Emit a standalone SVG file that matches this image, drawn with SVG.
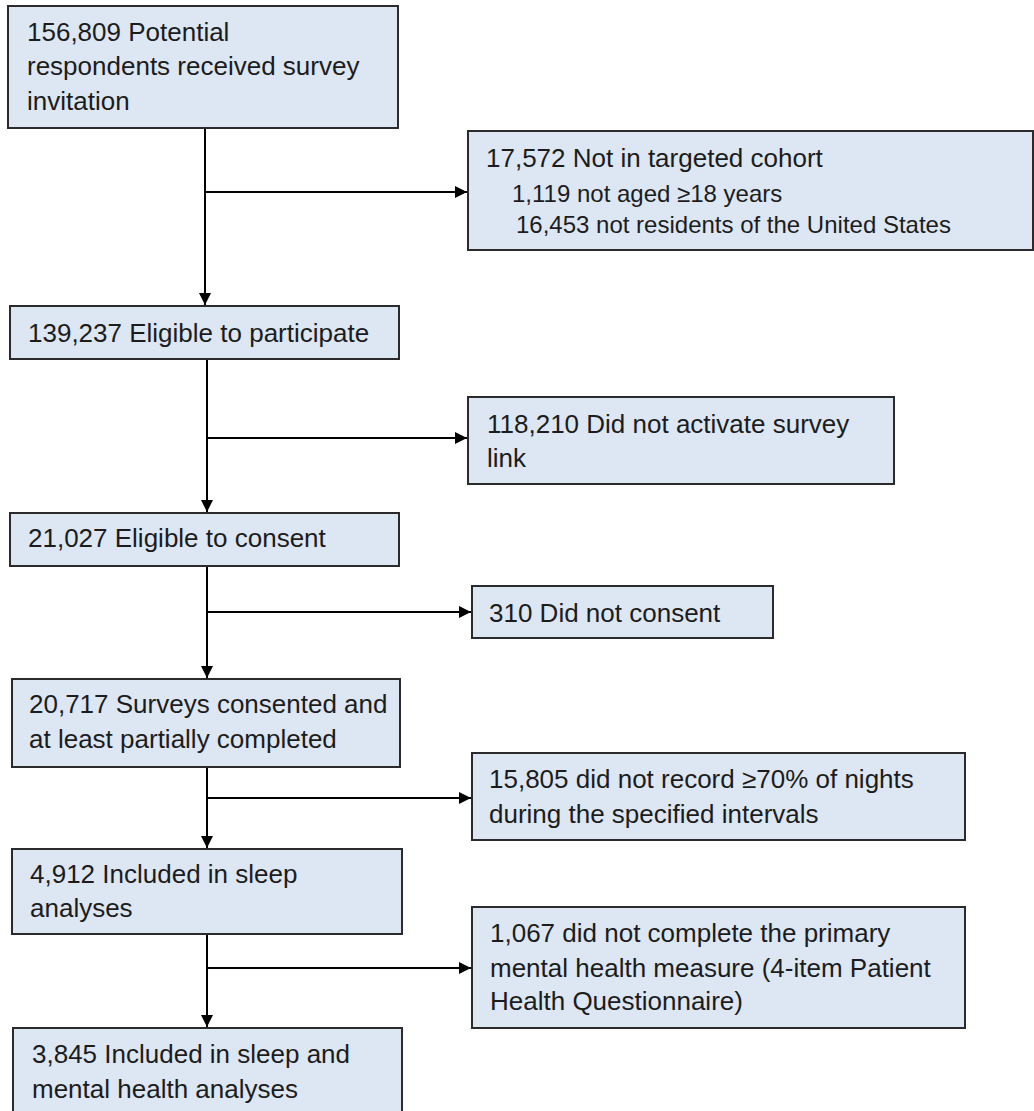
<svg xmlns="http://www.w3.org/2000/svg" width="1034" height="1111" viewBox="0 0 1034 1111">
<style>
.box{fill:#dce7f3;stroke:#2b2b2b;stroke-width:2}
.t{font-family:"Liberation Sans",Arial,sans-serif;font-size:26px;fill:#1c1c1c}
.s{font-size:24px}
.c{stroke:#000;stroke-width:2;fill:none}
</style>
<defs>
<marker id="ah" markerUnits="userSpaceOnUse" markerWidth="13" markerHeight="13" refX="12" refY="6" orient="auto">
<path d="M0,0 L12,6 L0,12 z" fill="#000"/>
</marker>
</defs>
<rect width="1034" height="1111" fill="#fff"/>
<g id="connectors">
<path class="c" d="M205,128 V305" marker-end="url(#ah)"/>
<path class="c" d="M205,192 H467" marker-end="url(#ah)"/>
<path class="c" d="M207,359 V512" marker-end="url(#ah)"/>
<path class="c" d="M207,438 H467" marker-end="url(#ah)"/>
<path class="c" d="M207,566 V678" marker-end="url(#ah)"/>
<path class="c" d="M207,612 H471" marker-end="url(#ah)"/>
<path class="c" d="M207,767 V848" marker-end="url(#ah)"/>
<path class="c" d="M207,798 H471" marker-end="url(#ah)"/>
<path class="c" d="M207,934 V1027" marker-end="url(#ah)"/>
<path class="c" d="M207,968 H471" marker-end="url(#ah)"/>
</g>
<g id="n1">
<rect class="box" x="8" y="6" width="390" height="122"/>
<text class="t" x="27" y="41">156,809 Potential</text>
<text class="t" x="27" y="75">respondents received survey</text>
<text class="t" x="27" y="110">invitation</text>
</g>
<g id="n2">
<rect class="box" x="10" y="306" width="389" height="53"/>
<text class="t" x="28" y="342">139,237 Eligible to participate</text>
</g>
<g id="n3">
<rect class="box" x="10" y="513" width="389" height="53"/>
<text class="t" x="28" y="547">21,027 Eligible to consent</text>
</g>
<g id="n4">
<rect class="box" x="12" y="679" width="388" height="88"/>
<text class="t" x="29" y="713">20,717 Surveys consented and</text>
<text class="t" x="29" y="748">at least partially completed</text>
</g>
<g id="n5">
<rect class="box" x="12" y="849" width="390" height="85"/>
<text class="t" x="30" y="883">4,912 Included in sleep</text>
<text class="t" x="30" y="917">analyses</text>
</g>
<g id="n6">
<rect class="box" x="13" y="1028" width="389" height="100"/>
<text class="t" x="32" y="1063">3,845 Included in sleep and</text>
<text class="t" x="32" y="1098">mental health analyses</text>
</g>
<g id="r1">
<rect class="box" x="468" y="131" width="565" height="119"/>
<text class="t" x="486" y="167">17,572 Not in targeted cohort</text>
<text class="t s" x="512" y="202">1,119 not aged ≥18 years</text>
<text class="t s" x="516" y="233">16,453 not residents of the United States</text>
</g>
<g id="r2">
<rect class="box" x="468" y="397" width="426" height="87"/>
<text class="t" x="487" y="433">118,210 Did not activate survey</text>
<text class="t" x="487" y="467">link</text>
</g>
<g id="r3">
<rect class="box" x="472" y="586" width="301" height="52"/>
<text class="t" x="489" y="622">310 Did not consent</text>
</g>
<g id="r4">
<rect class="box" x="472" y="753" width="493" height="87"/>
<text class="t" x="489" y="788">15,805 did not record ≥70% of nights</text>
<text class="t" x="489" y="823">during the specified intervals</text>
</g>
<g id="r5">
<rect class="box" x="472" y="907" width="493" height="121"/>
<text class="t" x="490" y="942">1,067 did not complete the primary</text>
<text class="t" x="490" y="977">mental health measure (4-item Patient</text>
<text class="t" x="490" y="1010">Health Questionnaire)</text>
</g>
</svg>
